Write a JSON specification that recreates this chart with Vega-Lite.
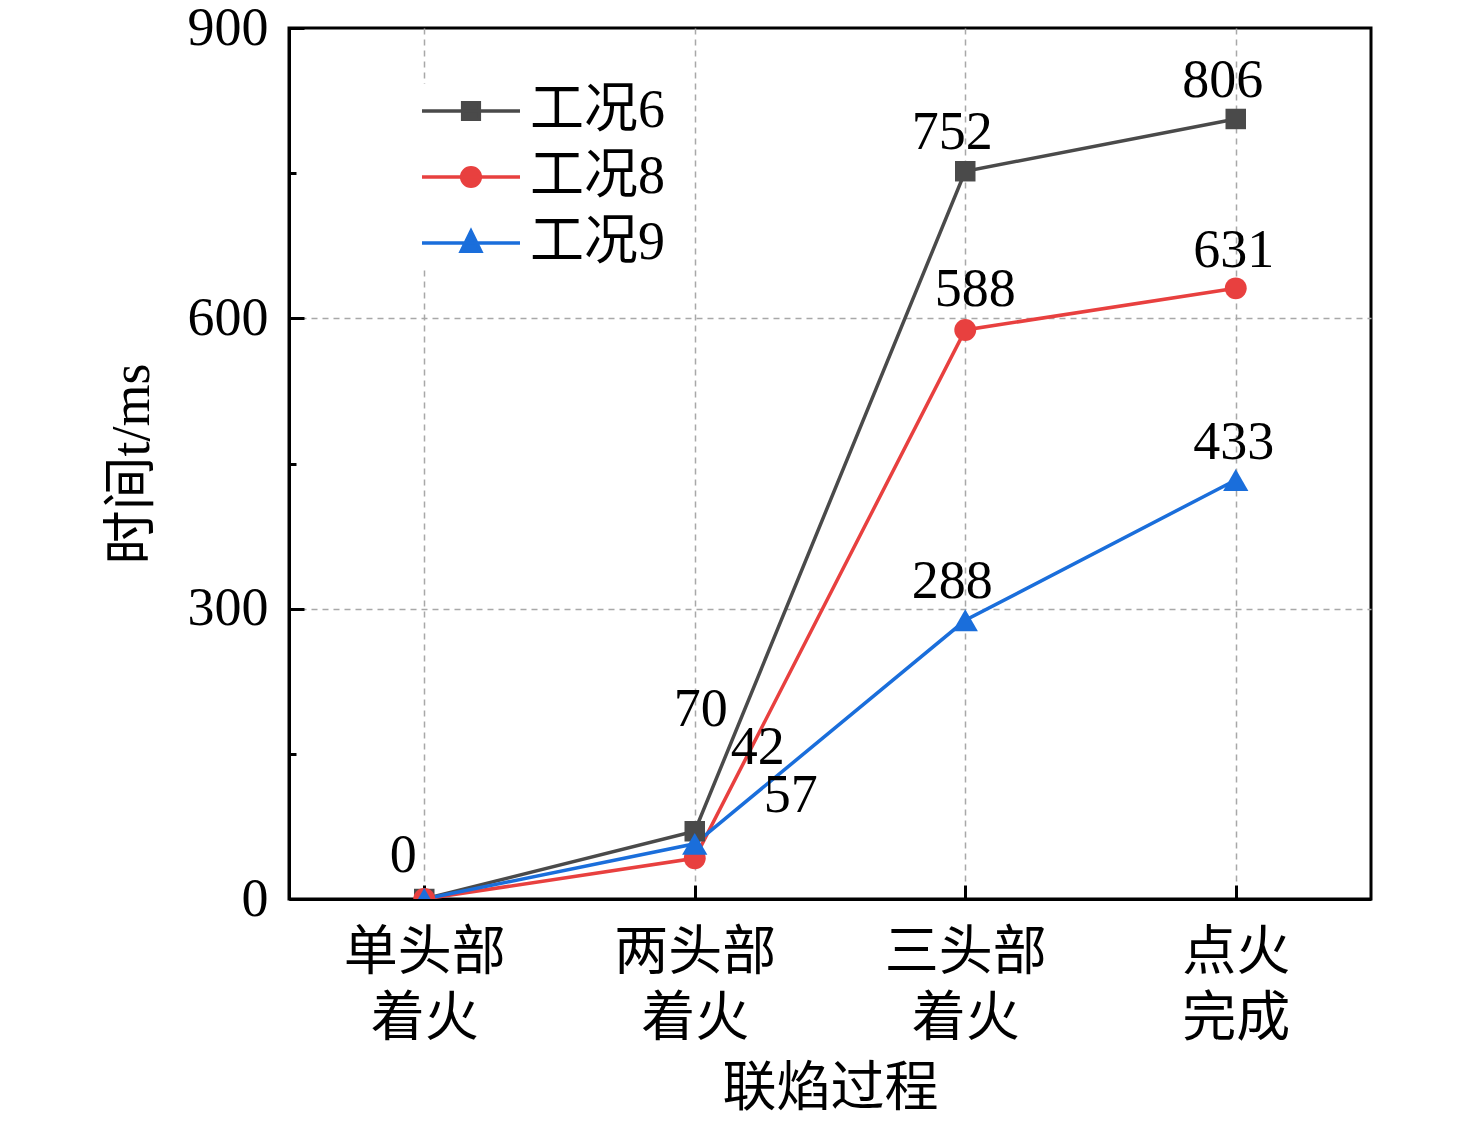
{
  "$schema": "https://vega.github.io/schema/vega-lite/v6.json",
  "width": 1082,
  "height": 871,
  "autosize": "none",
  "padding": {"left": 289, "top": 28, "right": 105, "bottom": 225},
  "background": "white",
  "config": {
    "font": "Liberation Serif, Noto Sans CJK SC",
    "view": {"stroke": "black", "strokeWidth": 3},
    "axis": {
      "domainColor": "black",
      "domainWidth": 3,
      "tickColor": "black",
      "tickWidth": 3,
      "labelFont": "Liberation Serif, Noto Sans CJK SC",
      "titleFont": "Liberation Serif, Noto Sans CJK SC",
      "labelFontSize": 54,
      "titleFontSize": 54,
      "labelColor": "black",
      "titleColor": "black",
      "titleFontWeight": "normal",
      "gridColor": "#a8a8a8",
      "gridDash": [6, 5],
      "gridWidth": 1.5
    }
  },
  "data": {
    "values": [
      {"stage": "单头部 着火", "series": "工况6", "t": 0},
      {"stage": "两头部 着火", "series": "工况6", "t": 70},
      {"stage": "三头部 着火", "series": "工况6", "t": 752},
      {"stage": "点火 完成", "series": "工况6", "t": 806},
      {"stage": "单头部 着火", "series": "工况8", "t": 0},
      {"stage": "两头部 着火", "series": "工况8", "t": 42},
      {"stage": "三头部 着火", "series": "工况8", "t": 588},
      {"stage": "点火 完成", "series": "工况8", "t": 631},
      {"stage": "单头部 着火", "series": "工况9", "t": 0},
      {"stage": "两头部 着火", "series": "工况9", "t": 57},
      {"stage": "三头部 着火", "series": "工况9", "t": 288},
      {"stage": "点火 完成", "series": "工况9", "t": 433}
    ]
  },
  "encoding": {
    "x": {
      "field": "stage",
      "type": "ordinal",
      "sort": null,
      "scale": {"type": "point", "padding": 0.5, "domain": ["单头部 着火", "两头部 着火", "三头部 着火", "点火 完成"]},
      "axis": {
        "title": "联焰过程",
        "labelAngle": 0,
        "labelExpr": "split(datum.label, ' ')",
        "labelLineHeight": 66,
        "labelBaseline": "top",
        "tickSize": -14,
        "labelPadding": 41,
        "titlePadding": 16,
        "grid": true
      }
    },
    "y": {
      "field": "t",
      "type": "quantitative",
      "scale": {"domain": [0, 900], "nice": false},
      "axis": {
        "title": "时间t/ms",
        "values": [0, 150, 300, 450, 600, 750, 900],
        "labelExpr": "datum.value % 300 === 0 ? datum.label : ''",
        "tickSize": {"condition": {"test": "datum.value % 300 === 0", "value": -15}, "value": -7},
        "labelPadding": 36,
        "titlePadding": 28,
        "grid": true,
        "gridOpacity": {"condition": {"test": "datum.value === 300 || datum.value === 600", "value": 1}, "value": 0}
      }
    },
    "color": {
      "field": "series",
      "type": "nominal",
      "scale": {"domain": ["工况6", "工况8", "工况9"], "range": ["#4a4a4a", "#e8403f", "#1a6edb"]},
      "legend": null
    }
  },
  "layer": [
    {
      "mark": {"type": "line", "strokeWidth": 3.5, "clip": true},
      "encoding": {
        "order": {"value": null},
        "color": {
          "field": "series",
          "type": "nominal",
          "legend": {
            "title": null,
            "orient": "none",
            "legendX": 131,
            "legendY": 56,
            "padding": 0,
            "fillColor": "white",
            "symbolSize": 100,
            "labelOffset": 8,
            "rowPadding": 12,
            "clipHeight": 54,
            "labelFont": "Liberation Serif, Noto Sans CJK SC",
            "labelFontSize": 54,
            "labelColor": "black",
            "encode": {
              "symbols": {
                "update": {
                  "shape": {"signal": "datum.value === '工况6' ? 'M-1,0H1M-0.17,-0.17H0.17V0.17H-0.17Z' : datum.value === '工况8' ? 'M-1,0H1M-0.19,0A0.19,0.19,0,1,0,0.19,0A0.19,0.19,0,1,0,-0.19,0Z' : 'M-1,0H1M0,-0.24L0.2,0.17L-0.2,0.17Z'"},
                  "size": {"value": 9604},
                  "fill": {"scale": "color", "field": "value"},
                  "stroke": {"scale": "color", "field": "value"},
                  "strokeWidth": {"value": 3.5},
                  "opacity": {"value": 1}
                }
              }
            }
          }
        }
      }
    },
    {
      "transform": [{"filter": "datum.series === '工况6'"}],
      "mark": {"type": "point", "shape": "square", "filled": true, "opacity": 1, "size": 420, "clip": true}
    },
    {
      "transform": [{"filter": "datum.series === '工况8'"}],
      "mark": {"type": "point", "shape": "circle", "filled": true, "opacity": 1, "size": 480, "clip": true}
    },
    {
      "transform": [{"filter": "datum.series === '工况9'"}],
      "mark": {"type": "point", "shape": "triangle-up", "filled": true, "opacity": 1, "size": 640, "clip": true}
    },
    {
      "transform": [{"filter": "datum.t === 752 || datum.t === 806 || datum.t === 288"}],
      "mark": {"type": "text", "fontSize": 54, "dx": -13, "dy": -38, "color": "black"},
      "encoding": {"text": {"field": "t", "type": "quantitative"}, "color": {"value": "black"}}
    },
    {
      "transform": [{"filter": "datum.t === 588"}],
      "mark": {"type": "text", "fontSize": 54, "dx": 10, "dy": -40, "color": "black"},
      "encoding": {"text": {"field": "t", "type": "quantitative"}, "color": {"value": "black"}}
    },
    {
      "transform": [{"filter": "datum.t === 631 || datum.t === 433"}],
      "mark": {"type": "text", "fontSize": 54, "dx": -2, "dy": -37, "color": "black"},
      "encoding": {"text": {"field": "t", "type": "quantitative"}, "color": {"value": "black"}}
    },
    {
      "transform": [{"filter": "datum.t === 0 && datum.series === '工况6'"}],
      "mark": {"type": "text", "fontSize": 54, "dx": -21, "dy": -43, "color": "black"},
      "encoding": {"text": {"field": "t", "type": "quantitative"}, "color": {"value": "black"}}
    },
    {
      "transform": [{"filter": "datum.t === 70"}],
      "mark": {"type": "text", "fontSize": 54, "dx": 6, "dy": -121, "color": "black"},
      "encoding": {"text": {"field": "t", "type": "quantitative"}, "color": {"value": "black"}}
    },
    {
      "transform": [{"filter": "datum.t === 42"}],
      "mark": {"type": "text", "fontSize": 54, "dx": 63, "dy": -110, "color": "black"},
      "encoding": {"text": {"field": "t", "type": "quantitative"}, "color": {"value": "black"}}
    },
    {
      "transform": [{"filter": "datum.t === 57"}],
      "mark": {"type": "text", "fontSize": 54, "dx": 96, "dy": -48, "color": "black"},
      "encoding": {"text": {"field": "t", "type": "quantitative"}, "color": {"value": "black"}}
    }
  ]
}
